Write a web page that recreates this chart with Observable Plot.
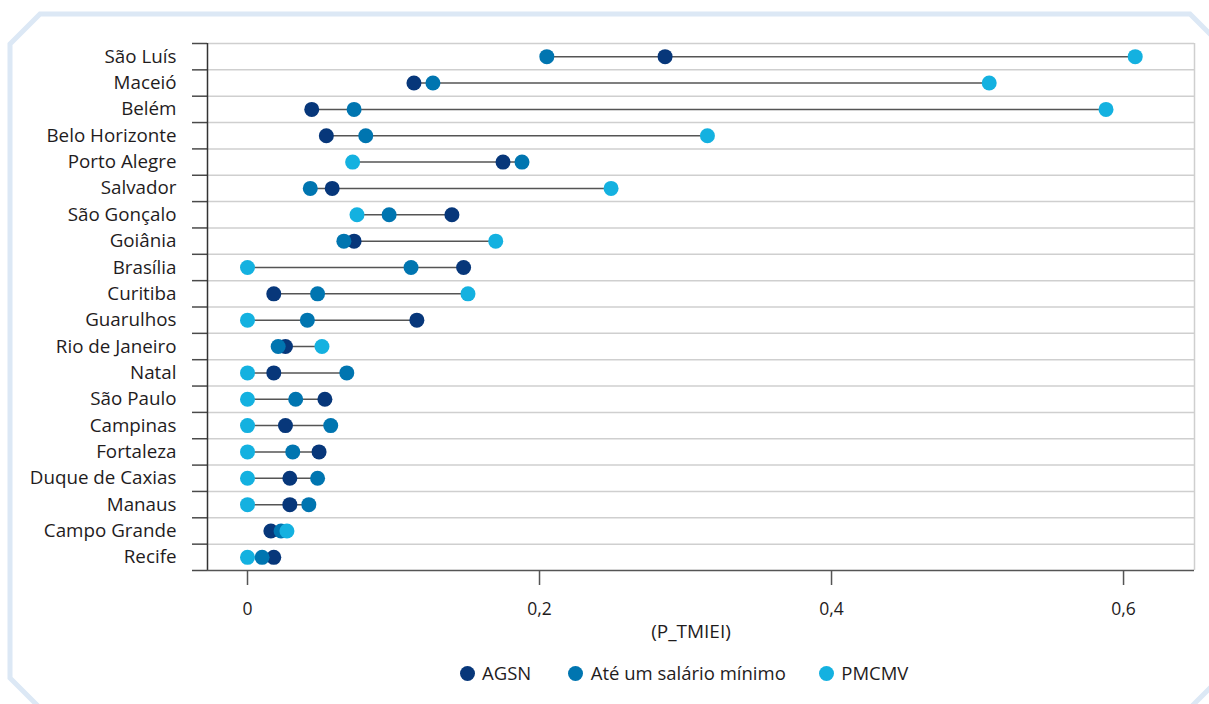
<!DOCTYPE html>
<html><head><meta charset="utf-8">
<script src="https://cdn.jsdelivr.net/npm/d3@7"></script>
<script src="https://cdn.jsdelivr.net/npm/@observablehq/plot@0.6"></script>
<style>
body{margin:0;background:#fff;font-family:"Open Sans",sans-serif;color:#1f1c1d;}
#wrap{position:relative;width:1209px;height:704px;overflow:hidden;background:#fff;}
#frame{position:absolute;left:0;top:0;}
#chart{position:absolute;left:0;top:0;}
#legend{position:absolute;top:661px;left:459.5px;display:flex;align-items:center;font-size:18.5px;line-height:24px;white-space:nowrap;}
#legend .item{display:flex;align-items:center;}
#legend .sw{width:15px;height:15px;border-radius:50%;display:inline-block;margin-right:7.5px;}
</style>
</head><body>
<div id="wrap">
<svg id="frame" width="1209" height="704"><polygon points="40,14 1190,14 1220,44 1220,678 1190,708 40,708 10,678 10,44" fill="none" stroke="#dce8f5" stroke-width="5"/></svg>
<div id="chart"></div>
<div id="legend"></div>
</div>
<script>
const cities = ["São Luís","Maceió","Belém","Belo Horizonte","Porto Alegre","Salvador","São Gonçalo","Goiânia","Brasília","Curitiba","Guarulhos","Rio de Janeiro","Natal","São Paulo","Campinas","Fortaleza","Duque de Caxias","Manaus","Campo Grande","Recife"];
const agsn  = [0.286,0.114,0.044,0.054,0.175,0.058,0.140,0.073,0.148,0.018,0.116,0.026,0.018,0.053,0.026,0.049,0.029,0.029,0.016,0.018];
const ate   = [0.205,0.127,0.073,0.081,0.188,0.043,0.097,0.066,0.112,0.048,0.041,0.021,0.068,0.033,0.057,0.031,0.048,0.042,0.023,0.010];
const pmcmv = [0.608,0.508,0.588,0.315,0.072,0.249,0.075,0.170,0.000,0.151,0.000,0.051,0.000,0.000,0.000,0.000,0.000,0.000,0.027,0.000];
const seriesNames = ["AGSN","Até um salário mínimo","PMCMV"];
const seriesColors = ["#07377a","#0075b0","#14b1e0"];
const xTicks = [0,0.2,0.4,0.6];
const xDomain = [-0.0274,0.6486];
const axisTitle = "(P_TMIEI)";

const seriesValues = [agsn, ate, pmcmv];
const rows = cities.map((c,i)=>({i, city:c, min:Math.min(agsn[i],ate[i],pmcmv[i]), max:Math.max(agsn[i],ate[i],pmcmv[i])}));
const long = [];
seriesNames.forEach((s,k)=>cities.forEach((c,i)=>long.push({i, city:c, series:s, value:seriesValues[k][i]})));
const boundaries = d3.range(cities.length+1).map(k=>k-0.5);
const fmt = d => d===0 ? "0" : d.toFixed(1).replace(".", ",");

const chart = Plot.plot({
  width:1209, height:660,
  marginTop:43, marginBottom:90, marginLeft:207, marginRight:15,
  style:{fontFamily:"Open Sans", fontSize:"16px", color:"#1f1c1d", background:"transparent"},
  x:{domain:xDomain},
  y:{domain:[cities.length-0.5,-0.5]},
  color:{domain:seriesNames, range:seriesColors},
  marks:[
    Plot.gridY(boundaries.slice(0,cities.length), {stroke:"#cfcfcf", strokeOpacity:1, strokeWidth:1.5}),
    Plot.ruleX([xDomain[1]], {stroke:"#cfcfcf", strokeWidth:1.5}),
    Plot.axisY({ticks:boundaries, tickSize:15, tickFormat:()=> "", stroke:"#4a4a4a", strokeWidth:1.5, label:null}),
    Plot.axisY({ticks:d3.range(cities.length), tickSize:0, tickPadding:31, tickFormat:i=>cities[i], fontSize:18.8, label:null}),
    Plot.ruleX([xDomain[0]], {stroke:"#333", strokeWidth:1.5}),
    Plot.ruleY([cities.length-0.5], {stroke:"#555", strokeWidth:1.5}),
    Plot.axisX({ticks:xTicks, tickSize:15, tickPadding:17, tickFormat:fmt, stroke:"#555", strokeWidth:1.5, fontSize:17.5, label:null}),
    Plot.ruleY(rows, {y:"i", x1:"min", x2:"max", stroke:"#555", strokeWidth:1.5}),
    Plot.dot(long, {x:"value", y:"i", fill:"series", r:7.5}),
    Plot.text([axisTitle], {frameAnchor:"bottom", dy:67, dx:-10, fontSize:19, fill:"#1f1c1d"})
  ]
});
document.getElementById("chart").appendChild(chart);

const gaps = ["37px","33px"];
const lg = document.getElementById("legend");
seriesNames.forEach((s,k)=>{
  const it = document.createElement("div"); it.className="item";
  if (k < seriesNames.length-1) it.style.marginRight = gaps[k];
  const sw = document.createElement("span"); sw.className="sw"; sw.style.background=seriesColors[k];
  const tx = document.createElement("span"); tx.textContent=s;
  it.appendChild(sw); it.appendChild(tx); lg.appendChild(it);
});
</script>
</body></html>
